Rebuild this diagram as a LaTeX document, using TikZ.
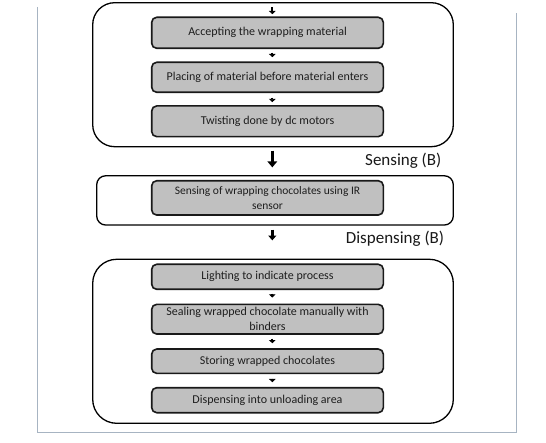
\documentclass[tikz,border=0pt]{standalone}
\usepackage{fontspec}
\setmainfont{Carlito}
\usetikzlibrary{arrows.meta}
\definecolor{boxgray}{HTML}{C0C0C0}
\definecolor{framec}{HTML}{A7B4C2}
\definecolor{txt}{HTML}{1E1E1E}
\tikzset{
  outerbox/.style={draw=black, line width=1.3pt, fill=white, inner sep=0pt},
  graybox/.style={draw=black!90, line width=1.6pt, fill=boxgray, rounded corners=5pt,
    minimum width=231.6pt, inner sep=0pt, align=center, text=txt,
    font=\fontsize{12}{14.5}\selectfont},
  smallarr/.style={line width=2pt, -{Triangle[width=6.5pt,length=3.2pt]}},
  midarr/.style={line width=2.6pt, -{Triangle[width=8pt,length=4.8pt]}},
  bigarr/.style={line width=3.2pt, -{Triangle[width=9.5pt,length=6pt]}},
  lbl/.style={anchor=east, inner sep=0pt, font=\fontsize{17}{20}\selectfont, text=black!90},
  framel/.style={draw=framec, line width=1.4pt}
}
\begin{document}
\begin{tikzpicture}[x=1pt,y=-1pt]
\useasboundingbox (0,0) rectangle (546,443);
% page frame
\coordinate (fa) at (37.3,7);
\coordinate (fb) at (37.3,432.3);
\coordinate (fc) at (516.7,432.3);
\coordinate (fd) at (516.7,13);
\draw[framel] (fa) -- (fb) -- (fc) -- (fd);
% outer boxes
\node[outerbox, rounded corners=22pt, minimum width=360.6pt, minimum height=144pt] (o1) at (273,74.7) {};
\node[outerbox, rounded corners=9pt, minimum width=356.6pt, minimum height=49.3pt] (o2) at (275,200.4) {};
\node[outerbox, rounded corners=24pt, minimum width=360.6pt, minimum height=164pt] (o3) at (273,341.3) {};
% gray boxes
\node[graybox, minimum height=31pt] (b1) at (267.5,32.8) {Accepting the wrapping material};
\node[graybox, minimum height=30pt] (b2) at (267.5,77.3) {Placing of material before material enters};
\node[graybox, minimum height=30.7pt] (b3) at (267.5,121.3) {Twisting done by dc motors};
\node[graybox, minimum height=34.3pt, font=\fontsize{11.5}{14.5}\selectfont] (s1) at (267.5,197.9) {Sensing of wrapping chocolates using IR\\sensor};
\node[graybox, minimum height=25pt] (d1) at (267.5,276.8) {Lighting to indicate process};
\node[graybox, minimum height=29.7pt, font=\fontsize{12}{14.8}\selectfont] (d2) at (267.5,319.2) {Sealing wrapped chocolate manually with\\binders};
\node[graybox, minimum height=24.3pt] (d3) at (267.5,361.2) {Storing wrapped chocolates};
\node[graybox, minimum height=25pt] (d4) at (267.5,400.2) {Dispensing into unloading area};
% labels
\node[lbl] (ls) at (441.5,160.9) {Sensing (B)};
\node[lbl] (ld) at (444.3,239) {Dispensing (B)};
% arrow column
\coordinate (ax) at (272.3,0);
\draw[smallarr, shorten <=5pt, shorten >=2.3pt] (o1.north -| ax) -- (b1.north -| ax);
\draw[smallarr, shorten <=3.5pt, shorten >=4.3pt] (b1.south -| ax) -- (b2.north -| ax);
\draw[smallarr, shorten <=4.5pt, shorten >=3pt] (b2.south -| ax) -- (b3.north -| ax);
\draw[bigarr, shorten <=3.3pt, shorten >=7.7pt] (o1.south -| ax) -- (o2.north -| ax);
\draw[midarr, shorten <=4pt, shorten >=18.3pt] (o2.south -| ax) -- (o3.north -| ax);
\draw[smallarr, shorten <=3.5pt, shorten >=6pt] (d1.south -| ax) -- (d2.north -| ax);
\draw[smallarr, shorten <=3.8pt, shorten >=5pt] (d2.south -| ax) -- (d3.north -| ax);
\draw[smallarr, shorten <=4.5pt, shorten >=4.7pt] (d3.south -| ax) -- (d4.north -| ax);
\end{tikzpicture}
\end{document}
